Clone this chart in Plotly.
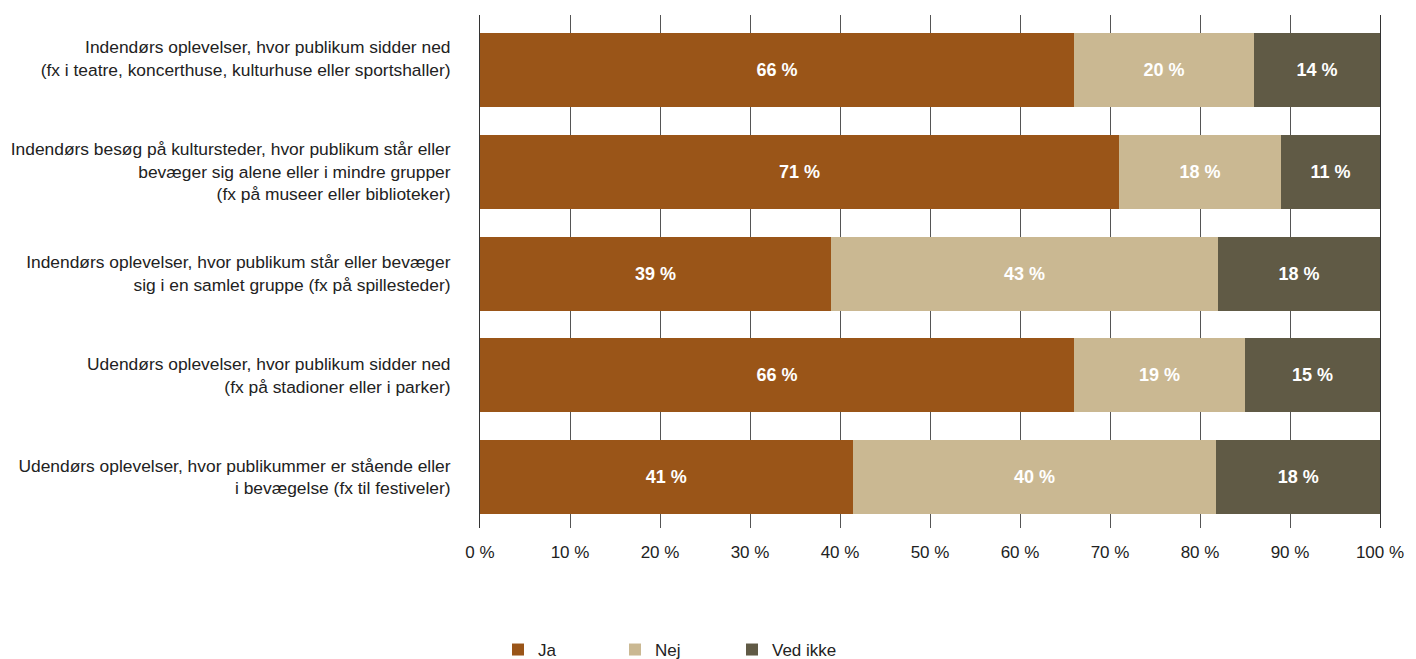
import plotly.graph_objects as go

categories = [
    "Indendørs oplevelser, hvor publikum sidder ned<br>(fx i teatre, koncerthuse, kulturhuse eller sportshaller)<br> ",
    "Indendørs besøg på kultursteder, hvor publikum står eller<br>bevæger sig alene eller i mindre grupper<br>(fx på museer eller biblioteker)",
    "Indendørs oplevelser, hvor publikum står eller bevæger<br>sig i en samlet gruppe (fx på spillesteder)",
    "Udendørs oplevelser, hvor publikum sidder ned<br>(fx på stadioner eller i parker)",
    "Udendørs oplevelser, hvor publikummer er stående eller<br>i bevægelse (fx til festiveler)",
]
ja = [66, 71, 39, 66, 41]
nej = [20, 18, 43, 19, 40]
ved_ikke = [14, 11, 18, 15, 18]
series_names = ["Ja", "Nej", "Ved ikke"]
colors = ["#9A5518", "#CAB892", "#605A45"]
tick_vals = [0, 10, 20, 30, 40, 50, 60, 70, 80, 90, 100]
tick_text = [f"{v} %" for v in tick_vals]

FONT = "Liberation Sans, Arial, Helvetica, sans-serif"

fig = go.Figure()
for name, vals, col in zip(series_names, [ja, nej, ved_ikke], colors):
    fig.add_trace(go.Bar(
        y=categories, x=vals, name=name, orientation="h",
        marker=dict(color=col, line=dict(width=0)),
        text=[f"{v} %" for v in vals],
        textposition="inside", insidetextanchor="middle", textangle=0,
        constraintext="none",
        textfont=dict(family=FONT, size=18, color="white", weight="bold"),
        hoverinfo="skip",
    ))

fig.update_layout(
    barmode="stack", barnorm="percent", bargap=0.273,
    width=1416, height=659,
    margin=dict(l=480, r=36, t=15, b=131),
    paper_bgcolor="white", plot_bgcolor="white",
    font=dict(family=FONT, size=17, color="#222"),
    showlegend=True,
    legend=dict(orientation="h", x=0.02, xanchor="left",
                yref="container", y=0.0137, yanchor="middle",
                font=dict(size=17, color="#222"), entrywidth=72, traceorder="normal"),
    xaxis=dict(range=[0, 100], tickvals=tick_vals, ticktext=tick_text,
               showgrid=True, gridcolor="#555", gridwidth=1, zeroline=False,
               showline=False, ticks="", ticklabelstandoff=12,
               tickfont=dict(size=17, color="#222"), fixedrange=True),
    yaxis=dict(range=[4.501, -0.5405], showgrid=False, zeroline=False, ticks="",
               showline=True, mirror=True, linecolor="#333", linewidth=1,
               ticklabelstandoff=25, tickfont=dict(size=17.4, color="#222"),
               fixedrange=True),
)

fig.write_html("out.html", config={"displayModeBar": False},
               post_script="document.body.style.margin='0';window.dispatchEvent(new Event('resize'));")
